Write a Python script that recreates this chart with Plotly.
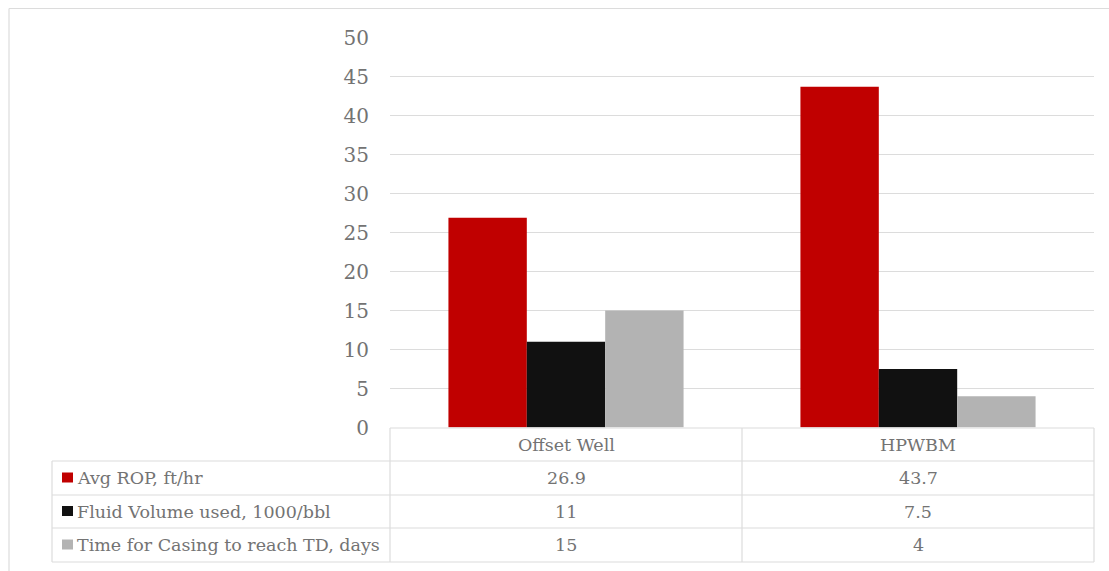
import plotly.graph_objects as go

# Chart data
categories = ["Offset Well", "HPWBM"]
series_names = [
    "Avg ROP, ft/hr",
    "Fluid Volume used, 1000/bbl",
    "Time for Casing to reach TD, days",
]
avg_rop = [26.9, 43.7]
fluid_volume = [11, 7.5]
casing_time = [15, 4]
y_ticks = [0, 5, 10, 15, 20, 25, 30, 35, 40, 45, 50]

series_values = [avg_rop, fluid_volume, casing_time]
colors = ["#C00000", "#111111", "#B3B3B3"]

W, H = 1109, 571
FONT = "DejaVu Serif"
TEXT = "#737373"
LINE = "#dcdcdc"


def px(x):
    return x / W


def py(y):
    return 1 - y / H


# plot area in pixels
X0, X1 = 390, 1094
Y_TOP, Y_ZERO = 37.5, 427.5

fig = go.Figure()
for name, vals, col in zip(series_names, series_values, colors):
    fig.add_trace(go.Bar(x=categories, y=vals, name=name, marker_color=col,
                         marker_line_width=0, showlegend=False))

fig.update_layout(
    width=W, height=H,
    margin=dict(l=0, r=0, t=0, b=0, pad=0, autoexpand=False),
    paper_bgcolor="white", plot_bgcolor="white",
    barmode="group", bargap=0.332, bargroupgap=0,
    font=dict(family=FONT, color=TEXT),
    xaxis=dict(domain=[px(X0), px(X1)], showticklabels=False, showgrid=False,
               zeroline=False, showline=False, ticks="", automargin=False),
    yaxis=dict(domain=[py(Y_ZERO), py(Y_TOP)], range=[0, 50], tickvals=y_ticks,
               showgrid=True, gridcolor=LINE, gridwidth=1, zeroline=False,
               showline=False, ticks="", ticklabelstandoff=20, automargin=False,
               tickfont=dict(family=FONT, size=20, color=TEXT)),
)

shapes = []


def hline(y, xa, xb):
    shapes.append(dict(type="line", xref="paper", yref="paper",
                       x0=px(xa), x1=px(xb), y0=py(y), y1=py(y),
                       line=dict(color=LINE, width=1.2)))


def vline(x, ya, yb):
    shapes.append(dict(type="line", xref="paper", yref="paper",
                       x0=px(x), x1=px(x), y0=py(ya), y1=py(yb),
                       line=dict(color=LINE, width=1.2)))


# outer frame
hline(8.5, 9, W)
vline(9, 8.5, H)

# data table grid
ROWS = [428, 461, 495, 528, 562]
COL_L, COL_M = 52, 742
hline(ROWS[0], X0, X1)
for y in ROWS[1:]:
    hline(y, COL_L, X1)
vline(COL_L, ROWS[1], ROWS[-1])
for x in (X0, COL_M, X1):
    vline(x, ROWS[0], ROWS[-1])

annotations = []
col_centers = [(X0 + COL_M) / 2, (COL_M + X1) / 2]
hdr_y = (ROWS[0] + ROWS[1]) / 2
TSIZE = 17.5
for cat, cx in zip(categories, col_centers):
    annotations.append(dict(xref="paper", yref="paper", x=px(cx), y=py(hdr_y),
                            text=cat, showarrow=False, xanchor="center",
                            yanchor="middle", font=dict(size=TSIZE, color=TEXT)))

for i, (name, vals, col) in enumerate(zip(series_names, series_values, colors)):
    ry = (ROWS[i + 1] + ROWS[i + 2]) / 2
    # legend key
    shapes.append(dict(type="rect", xref="paper", yref="paper",
                       x0=px(62), x1=px(73), y0=py(ry - 5.5), y1=py(ry + 4.5),
                       fillcolor=col, line_width=0))
    annotations.append(dict(xref="paper", yref="paper", x=px(75), y=py(ry),
                            text=name, showarrow=False, xanchor="left",
                            yanchor="middle", font=dict(size=TSIZE, color=TEXT)))
    for v, cx in zip(vals, col_centers):
        annotations.append(dict(xref="paper", yref="paper", x=px(cx), y=py(ry),
                                text=f"{v:g}", showarrow=False, xanchor="center",
                                yanchor="middle", font=dict(size=TSIZE, color=TEXT)))

fig.update_layout(shapes=shapes, annotations=annotations)
fig.write_html("out.html")
